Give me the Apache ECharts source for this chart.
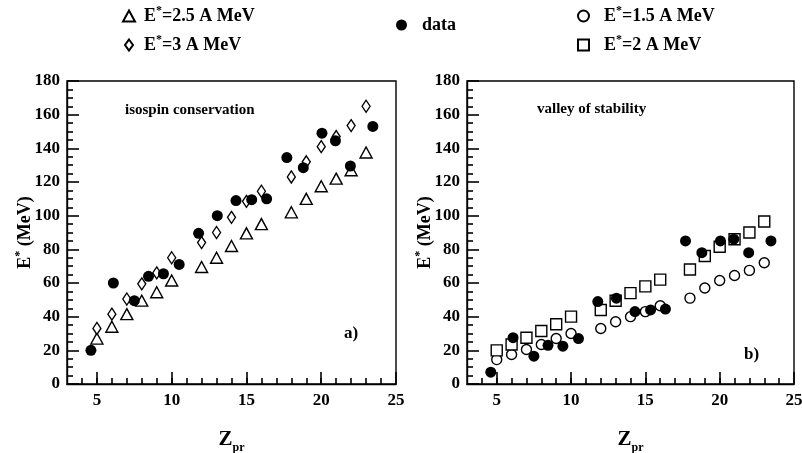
<!DOCTYPE html>
<html><head><meta charset="utf-8">
<script src="https://cdn.jsdelivr.net/npm/echarts@6/dist/echarts.min.js"></script>
<style>html,body{margin:0;padding:0;background:#fff}#c{width:802px;height:453px}</style>
</head><body><div id="c"></div>
<script>
// ---- data ----
const zModel = [5,6,7,8,9,10,12,13,14,15,16,18,19,20,21,22,23];
const zData = [4.6,6.1,7.5,8.45,9.45,10.5,11.8,13.05,14.3,15.35,16.35,17.7,18.8,20.05,20.95,21.95,23.45];
const leftData = [20,60,49.5,64,65.5,71,89.5,100,109,109.5,110,134.5,128.5,149,144.5,129.5,153];
const leftE25 = [27,34,41.5,49.5,54.5,61.5,69.5,75,82,89.5,95,102,110,117.5,122,127,137.5];
const leftE3 = [33,41.5,50.5,59.5,66,75,84,90,99,108.5,114.5,123,132,141,147,153.5,165];
const rightData = [7,27.5,16.5,23,22.5,27,49,51,43,44,44.5,85,78,85,86,78,85];
const rightE15 = [14.5,17.5,20.5,23.5,27,30,33,37,40,43,46.5,51,57,61.5,64.5,67.5,72];
const rightE2 = [20,23.5,27.5,31.5,35.5,40,44,49.5,54,58,62,68,76,81.5,86,90,96.5];
const xTickLabels = [5,10,15,20,25];
const yTickLabels = [0,20,40,60,80,100,120,140,160,180];
const xMin = 3, xMax = 25, yMin = 0, yMax = 180;

const FONT = '"Liberation Serif","Times New Roman",serif';
const zip = (xs, ys) => xs.map((x, i) => [x, ys[i]]);
const xMinorTicks = [];
for (let v = xMin + 1; v < xMax; v++) xMinorTicks.push(v);

const chart = echarts.init(document.getElementById('c'), null, {renderer: 'canvas'});
const TICK = {color: '#000', width: 1.6};

function mainX(grid) {
  return {
    gridIndex: grid, type: 'value', min: xMin, max: xMax,
    axisLine: {show: true, lineStyle: {color: '#000', width: 1.4}},
    axisTick: {show: true, inside: true, length: 6, customValues: xMinorTicks, lineStyle: TICK},
    axisLabel: {customValues: xTickLabels, margin: 8, color: '#000', fontFamily: FONT, fontWeight: 'bold', fontSize: 17},
    splitLine: {show: false},
    name: '{z|Z}{p|pr}', nameLocation: 'middle', nameGap: 42, nameMoveOverlap: false,
    nameTextStyle: {color: '#000', rich: {
      z: {fontFamily: FONT, fontWeight: 'bold', fontSize: 21, lineHeight: 28, color: '#000'},
      p: {fontFamily: FONT, fontWeight: 'bold', fontSize: 12, verticalAlign: 'bottom', lineHeight: 14, color: '#000'}
    }}
  };
}
function majorX(grid) {
  return {
    gridIndex: grid, type: 'value', min: xMin, max: xMax, position: 'bottom',
    axisLine: {show: false},
    axisTick: {show: true, inside: true, length: 12, customValues: xTickLabels, lineStyle: TICK},
    axisLabel: {show: false}, splitLine: {show: false}
  };
}
function yAx(grid) {
  return {
    gridIndex: grid, type: 'value', min: yMin, max: yMax, interval: 20,
    axisLine: {show: true, lineStyle: {color: '#000', width: 1.4}},
    axisTick: {show: true, inside: true, length: 12, lineStyle: TICK},
    minorTick: {show: true, splitNumber: 4, length: 6, lineStyle: TICK},
    axisLabel: {margin: 7, color: '#000', fontFamily: FONT, fontWeight: 'bold', fontSize: 17},
    splitLine: {show: false},
    name: '{b|E}{s|*}{b| (MeV)}', nameLocation: 'middle', nameGap: 31, nameRotate: 90, nameMoveOverlap: false,
    nameTextStyle: {color: '#000', rich: {
      b: {fontFamily: FONT, fontWeight: 'bold', fontSize: 18, lineHeight: 22, color: '#000'},
      s: {fontFamily: FONT, fontWeight: 'bold', fontSize: 12, verticalAlign: 'top', color: '#000'}
    }}
  };
}

const hollow = {color: '#fff', borderColor: '#000', borderWidth: 1.4, opacity: 1};
const filled = {color: '#000', borderColor: '#000', borderWidth: 0, opacity: 1};

function legendFmt(name) {
  if (name.indexOf('*') < 0) return '{g|}{b|' + name + '}';
  const p = name.split('*');
  return '{g|}{b|' + p[0] + '}{s|*}{b|' + p[1] + '}';
}
function legend(name, left, top, w, h, gap) {
  return {
    data: [name], left: left, top: top, padding: 0, itemWidth: w, itemHeight: h,
    selectedMode: false, formatter: legendFmt,
    textStyle: {color: '#000', rich: {
      g: {width: gap},
      b: {fontFamily: FONT, fontWeight: 'bold', fontSize: 18, lineHeight: 22, color: '#000'},
      s: {fontFamily: FONT, fontWeight: 'bold', fontSize: 12, verticalAlign: 'top', color: '#000'}
    }}
  };
}

const gridBase = {top: 81, height: 303, show: true, borderColor: '#000', borderWidth: 1.4,
  backgroundColor: 'transparent', containLabel: false, outerBoundsMode: 'none'};

const option = {
  animation: false,
  backgroundColor: '#fff',
  grid: [
    Object.assign({left: 67, width: 329}, gridBase),
    Object.assign({left: 467, width: 327}, gridBase)
  ],
  xAxis: [mainX(0), majorX(0), mainX(1), majorX(1)],
  yAxis: [yAx(0), yAx(1)],
  legend: [
    legend('E*=2.5 A MeV', 122, 5, 12, 11, 4),
    legend('E*=3 A MeV', 124, 34, 8, 11, 6),
    legend('data', 396, 16, 11, 11, 10),
    legend('E*=1.5 A MeV', 577, 5, 11, 11, 10),
    legend('E*=2 A MeV', 577, 34, 11, 11, 10)
  ],
  graphic: [
    {type: 'text', left: 125, top: 103, style: {text: 'isospin conservation', font: 'bold 15px ' + FONT, fill: '#000'}},
    {type: 'text', left: 537, top: 102, style: {text: 'valley of stability', font: 'bold 15px ' + FONT, fill: '#000'}},
    {type: 'text', left: 344, top: 325, style: {text: 'a)', font: 'bold 17px ' + FONT, fill: '#000'}},
    {type: 'text', left: 744, top: 346, style: {text: 'b)', font: 'bold 17px ' + FONT, fill: '#000'}}
  ],
  series: [
    {type: 'scatter', name: 'E*=2.5 A MeV', xAxisIndex: 0, yAxisIndex: 0, symbol: 'triangle', symbolSize: [12, 11], data: zip(zModel, leftE25), itemStyle: hollow},
    {type: 'scatter', name: 'E*=3 A MeV', xAxisIndex: 0, yAxisIndex: 0, symbol: 'diamond', symbolSize: [8, 12], data: zip(zModel, leftE3), itemStyle: hollow},
    {type: 'scatter', name: 'data', xAxisIndex: 0, yAxisIndex: 0, symbol: 'circle', symbolSize: 11, data: zip(zData, leftData), itemStyle: filled},
    {type: 'scatter', name: 'E*=1.5 A MeV', xAxisIndex: 2, yAxisIndex: 1, symbol: 'circle', symbolSize: 10, data: zip(zModel, rightE15), itemStyle: hollow},
    {type: 'scatter', name: 'E*=2 A MeV', xAxisIndex: 2, yAxisIndex: 1, symbol: 'rect', symbolSize: 11, data: zip(zModel, rightE2), itemStyle: hollow},
    {type: 'scatter', name: 'data', xAxisIndex: 2, yAxisIndex: 1, symbol: 'circle', symbolSize: 11, data: zip(zData, rightData), itemStyle: filled}
  ]
};
chart.setOption(option);
</script>
</body></html>
